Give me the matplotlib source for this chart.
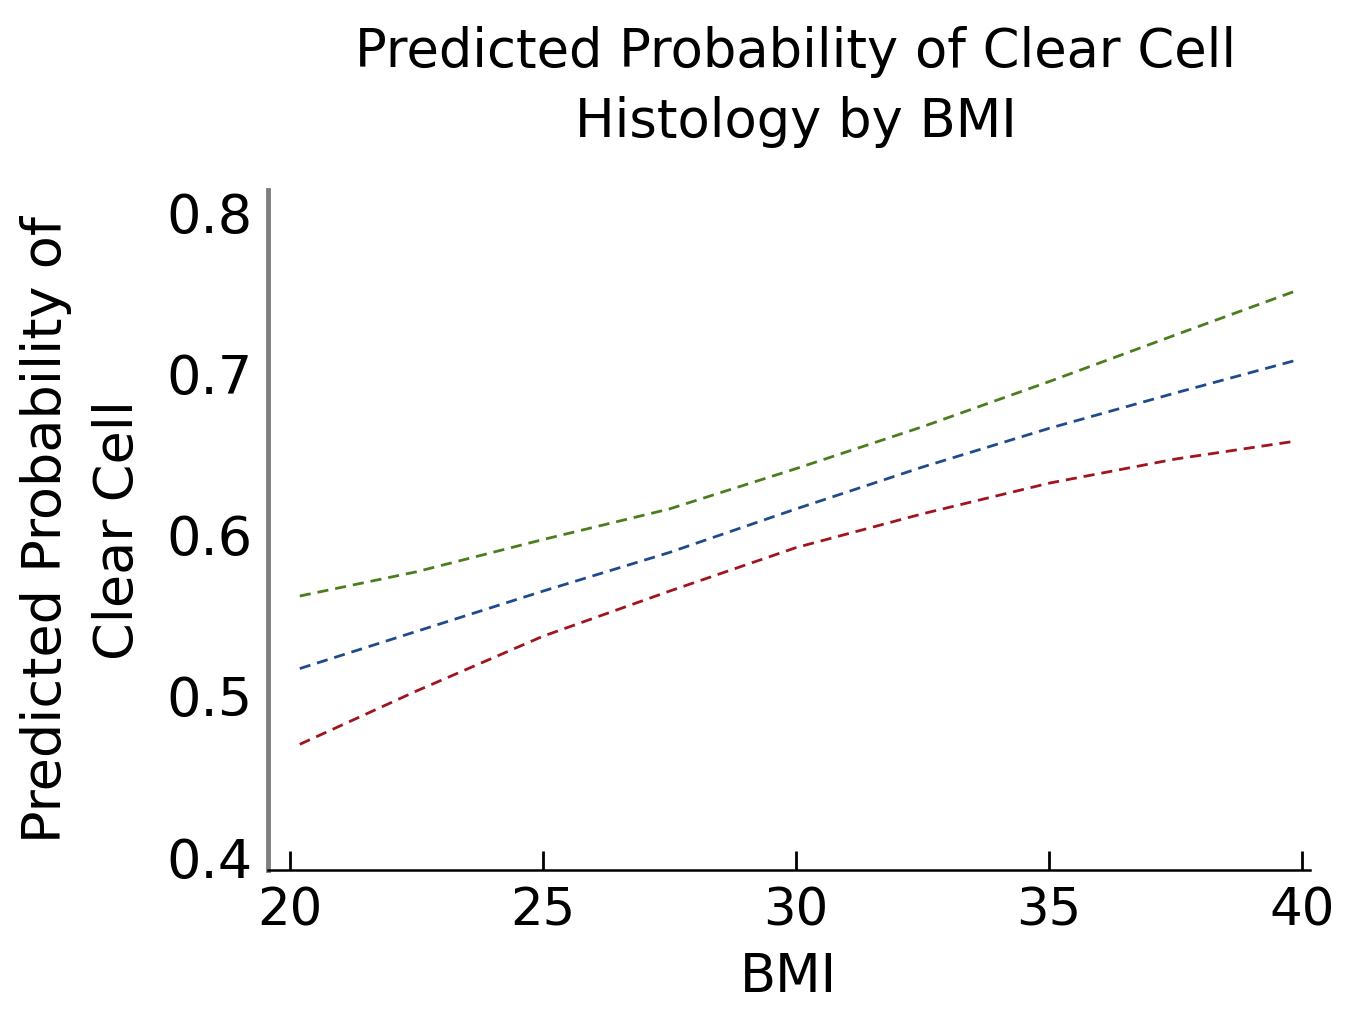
import matplotlib
matplotlib.use("Agg")
import matplotlib.pyplot as plt

bmi = [20.2, 22.5, 25, 27.5, 30, 32.5, 35, 37.5, 39.85]
upper = [0.562, 0.577, 0.597, 0.616, 0.641, 0.667, 0.695, 0.724, 0.751]
mid = [0.517, 0.540, 0.565, 0.589, 0.616, 0.642, 0.666, 0.688, 0.708]
lower = [0.470, 0.503, 0.537, 0.565, 0.592, 0.613, 0.632, 0.647, 0.658]
xticks = [20, 25, 30, 35, 40]
yticks = [0.4, 0.5, 0.6, 0.7, 0.8]

plt.rcParams['font.family'] = ['DejaVu Sans']

fig = plt.figure(figsize=(13.53, 10.26), dpi=100)
ax = fig.add_axes([0.198, 0.152, 0.770, 0.663])

ax.plot(bmi, upper, color="#4b7d1e", ls=(0, (4, 2.5)), lw=2.0)
ax.plot(bmi, mid, color="#1f4b8a", ls=(0, (4, 2.5)), lw=2.0)
ax.plot(bmi, lower, color="#a0141e", ls=(0, (4, 2.5)), lw=2.0)

ax.set_xlim(19.57, 40.15)
ax.set_ylim(0.392, 0.814)
ax.set_xticks(xticks)
ax.set_xticklabels([str(t) for t in xticks], fontsize=37)
ax.set_yticks(yticks)
ax.set_yticklabels([f"{t:.1f}" for t in yticks], fontsize=39)
ax.tick_params(axis='x', direction='in', length=14, width=2, pad=12)
ax.tick_params(axis='y', length=0, pad=11)
for s in ("top", "right"):
    ax.spines[s].set_visible(False)
ax.spines["left"].set_color("#7f7f7f")
ax.spines["left"].set_linewidth(3.5)
ax.spines["bottom"].set_linewidth(1.8)

ax.set_xlabel("BMI", fontsize=38, labelpad=10)
ax.set_ylabel("Predicted Probability of\nClear Cell", fontsize=39, labelpad=16, linespacing=1.5)
fig.text(0.588, 0.915, "Predicted Probability of Clear Cell\nHistology by BMI",
         ha="center", va="center", fontsize=38, linespacing=1.45)

fig.savefig("out.png", dpi=100)
